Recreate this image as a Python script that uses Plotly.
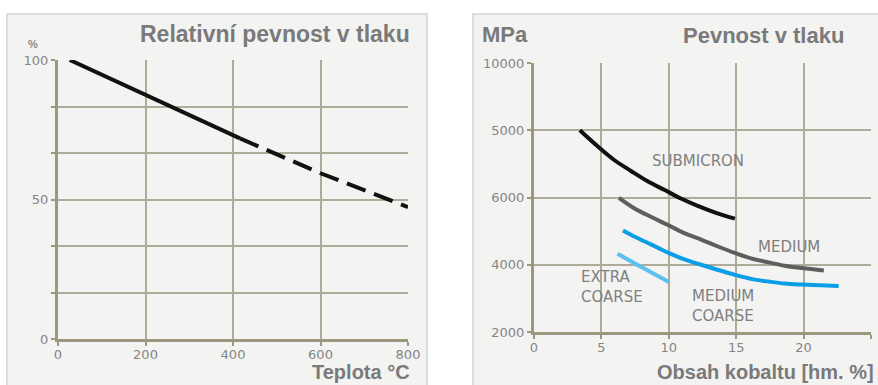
import plotly.graph_objects as go

# ---- Left panel data: relative compressive strength vs temperature ----
temp_solid = [27, 200, 416]
rel_solid = [100, 87.6, 71.9]
temp_dash = [416, 600, 800]
rel_dash = [71.9, 59.4, 47.3]
left_x_ticks = [0, 200, 400, 600, 800]
left_y_tickvals = [0, 100/6, 200/6, 50, 400/6, 500/6, 100]
left_y_ticktext = ["0", "", "", "50", "", "", "100"]

# ---- Right panel data: compressive strength vs cobalt content ----
sub_x = [3.4, 4.7, 5.9, 7.2, 8.4, 9.7, 10.9, 12.1, 13.4, 14.9]
sub_y = [8000, 7530, 7130, 6790, 6490, 6220, 5970, 5760, 5560, 5370]
med_x = [6.3, 7.4, 8.7, 9.9, 11.1, 12.4, 13.6, 14.9, 16.1, 17.4, 18.6, 19.9, 21.5]
med_y = [5990, 5690, 5420, 5190, 4950, 4750, 4550, 4350, 4190, 4070, 3970, 3900, 3830]
mc_x = [6.6, 7.4, 8.7, 9.9, 11.1, 12.4, 13.6, 14.9, 16.1, 17.4, 18.6, 19.9, 22.6]
mc_y = [5020, 4850, 4600, 4370, 4170, 4000, 3850, 3700, 3580, 3500, 3440, 3410, 3370]
ec_x = [6.2, 8.1, 10.0]
ec_y = [4330, 3900, 3490]
right_x_ticks = [0, 5, 10, 15, 20, 25]
right_y_tickvals = [2000, 4000, 6000, 8000, 10000]
right_y_ticktext = ["2000", "4000", "6000", "5000", "10000"]

W, H = 878, 385
grid_c = "#aeac98"
axis_c = "#9b987f"
tick_font = dict(family="DejaVu Sans", size=13, color="#858585")
title_c = "#7a7a7a"

fig = go.Figure()
fig.add_trace(go.Scatter(x=temp_solid, y=rel_solid, mode="lines",
                         line=dict(color="#111111", width=4), xaxis="x", yaxis="y"))
fig.add_trace(go.Scatter(x=temp_dash, y=rel_dash, mode="lines",
                         line=dict(color="#111111", width=4, dash="20px,9px"), xaxis="x", yaxis="y"))
fig.add_trace(go.Scatter(x=sub_x, y=sub_y, mode="lines", line=dict(color="#111111", width=4, shape="spline"),
                         xaxis="x2", yaxis="y2"))
fig.add_trace(go.Scatter(x=med_x, y=med_y, mode="lines", line=dict(color="#5e5e5e", width=4, shape="spline"),
                         xaxis="x2", yaxis="y2"))
fig.add_trace(go.Scatter(x=mc_x, y=mc_y, mode="lines", line=dict(color="#0a9ee6", width=4, shape="spline"),
                         xaxis="x2", yaxis="y2"))
fig.add_trace(go.Scatter(x=ec_x, y=ec_y, mode="lines", line=dict(color="#5cc1ef", width=4, shape="spline"),
                         xaxis="x2", yaxis="y2"))

ax_common = dict(showgrid=True, gridcolor=grid_c, gridwidth=1.5, showline=True, linecolor=axis_c,
                 linewidth=3, tickcolor=axis_c, tickwidth=2, automargin=False,
                 tickfont=tick_font, zeroline=False, fixedrange=True,
                 ticks="outside", ticklen=4)

fig.update_layout(
    width=W, height=H, margin=dict(l=0, r=0, t=0, b=0),
    paper_bgcolor="white", plot_bgcolor="rgba(0,0,0,0)", showlegend=False,
    xaxis=dict(domain=[58/W, 408/W], range=[0, 800], tickvals=left_x_ticks, anchor="y",
               ticklabelstandoff=-3, **ax_common),
    yaxis=dict(domain=[1-339/H, 1-60/H], range=[0, 100], tickvals=left_y_tickvals,
               ticktext=left_y_ticktext, anchor="x", **ax_common),
    xaxis2=dict(domain=[534/W, 871/W], range=[0, 25], tickvals=right_x_ticks, anchor="y2",
                ticklabelstandoff=-3, **ax_common),
    yaxis2=dict(domain=[1-332/H, 1-63/H], range=[2000, 10000], tickvals=right_y_tickvals,
                ticktext=right_y_ticktext, anchor="x2", **ax_common),
)

# panel backgrounds
for x0, x1 in [(7/W, 427/W), (473/W, 1.01)]:
    fig.add_shape(type="rect", xref="paper", yref="paper", x0=x0, x1=x1, y0=-0.02, y1=1-14/H,
                  fillcolor="#f3f3f2", line=dict(color="#dcdcdc", width=2), layer="below")

def pann(text, x, y, size, xanchor="left", yanchor="middle", color=title_c, family="Liberation Sans"):
    fig.add_annotation(text=text, xref="paper", yref="paper", x=x/W, y=1-y/H,
                       xanchor=xanchor, yanchor=yanchor, showarrow=False,
                       font=dict(family=family, size=size, color=color))

pann("<b>Relativní pevnost v tlaku</b>", 412, 34, 23, xanchor="right")
pann("<b>%</b>", 33, 44, 11, xanchor="center", color="#8a8a8a")
pann("<b>Teplota °C</b>", 412, 372, 20, xanchor="right")
pann("<b>MPa</b>", 480, 34, 22)
pann("<b>Pevnost v tlaku</b>", 846, 35, 22, xanchor="right")
pann("<b>Obsah kobaltu [hm. %]</b>", 876, 372, 20, xanchor="right")

lab_font = dict(family="DejaVu Sans", size=15, color="#7f7f7f")
for text, x, y in [("SUBMICRON", 12.2, 7080), ("MEDIUM", 18.9, 4540),
                   ("EXTRA<br>COARSE", 5.8, 3340), ("MEDIUM<br>COARSE", 14.0, 2760)]:
    fig.add_annotation(text=text, x=x, y=y, xref="x2", yref="y2", showarrow=False,
                       font=lab_font, align="left")

fig.write_html("out.html", config={"displayModeBar": False},
               post_script="document.body.style.margin='0px';document.body.style.overflow='hidden';")
